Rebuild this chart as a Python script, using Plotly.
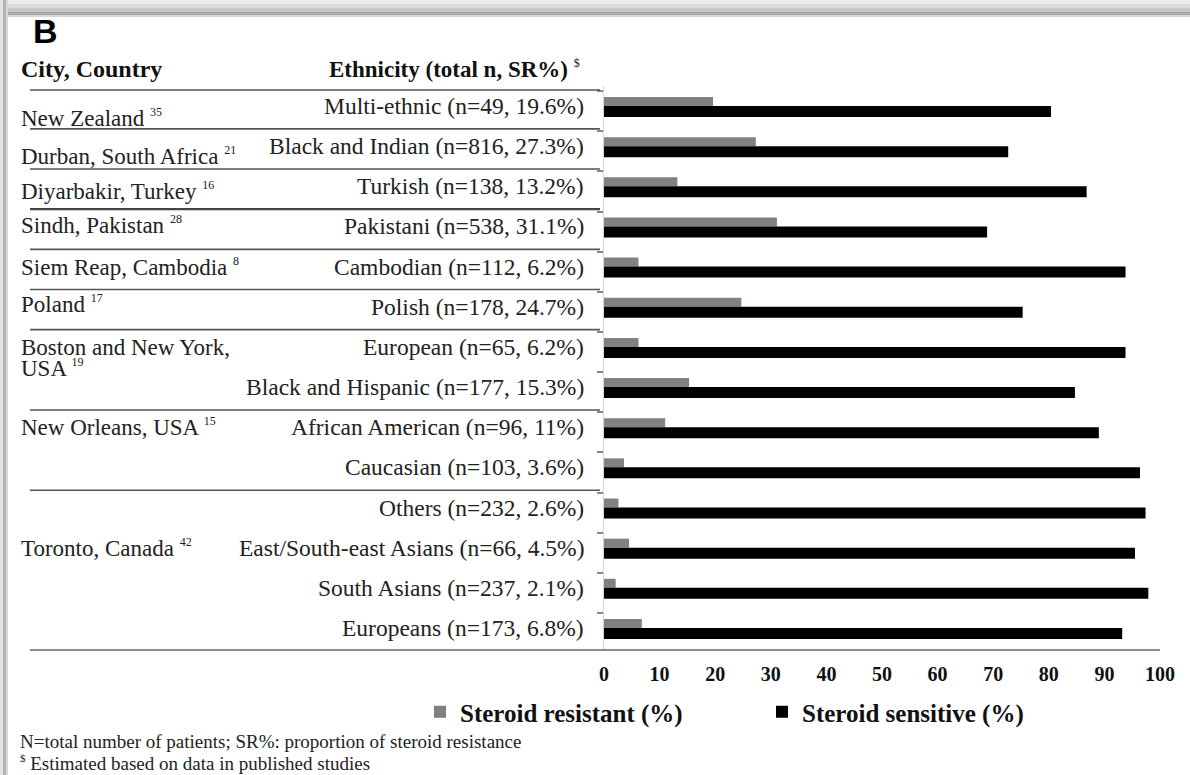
import plotly.graph_objects as go

# ---------------- data ----------------
ethnicities = [
    "Multi-ethnic (n=49, 19.6%)",
    "Black and Indian (n=816, 27.3%)",
    "Turkish (n=138, 13.2%)",
    "Pakistani (n=538, 31.1%)",
    "Cambodian (n=112, 6.2%)",
    "Polish (n=178, 24.7%)",
    "European (n=65, 6.2%)",
    "Black and Hispanic (n=177, 15.3%)",
    "African American (n=96, 11%)",
    "Caucasian (n=103, 3.6%)",
    "Others (n=232, 2.6%)",
    "East/South-east Asians (n=66, 4.5%)",
    "South Asians (n=237, 2.1%)",
    "Europeans (n=173, 6.8%)",
]
steroid_resistant = [19.6, 27.3, 13.2, 31.1, 6.2, 24.7, 6.2, 15.3, 11.0, 3.6, 2.6, 4.5, 2.1, 6.8]
steroid_sensitive = [80.4, 72.7, 86.8, 68.9, 93.8, 75.3, 93.8, 84.7, 89.0, 96.4, 97.4, 95.5, 97.9, 93.2]

cities = [
    ["New Zealand"],
    ["Durban, South Africa"],
    ["Diyarbakir, Turkey"],
    ["Sindh, Pakistan"],
    ["Siem Reap, Cambodia"],
    ["Poland"],
    ["Boston and New York,", "USA"],
    ["New Orleans, USA"],
    ["Toronto, Canada"],
]
city_refs = ["35", "21", "16", "28", "8", "17", "19", "15", "42"]
city_groups = [[0], [1], [2], [3], [4], [5], [6, 7], [8, 9], [10, 11, 12, 13]]

x_ticks = [0, 10, 20, 30, 40, 50, 60, 70, 80, 90, 100]

# ---------------- layout geometry (pixels) ----------------
W, H = 1190, 775
L, R = 604, 1160          # x=0 and x=100
T, B = 86, 650            # plot top / bottom
ROW0, ROWSTEP = 106, 40.15

def fx(px):
    return (px - L) / (R - L)

def fy(py):
    return (B - py) / (B - T)

def row_to_px(r):
    return ROW0 + ROWSTEP * r

ymin = (T - ROW0) / ROWSTEP
ymax = (B - ROW0) / ROWSTEP

SERIF = "Liberation Serif"
rows = list(range(len(ethnicities)))

def sup(t, size):
    return "<sup><span style='font-size:%dpx'>%s</span></sup>" % (size, t)

fig = go.Figure()
fig.add_trace(go.Bar(
    orientation="h", y=rows, x=steroid_resistant, name="Steroid resistant (%)",
    marker=dict(color="#7f8183", line=dict(width=0)),
    width=9 / ROWSTEP, offset=-9 / ROWSTEP, hoverinfo="x",
))
fig.add_trace(go.Bar(
    orientation="h", y=rows, x=steroid_sensitive, name="Steroid sensitive (%)",
    marker=dict(color="#000000", line=dict(width=0)),
    width=11 / ROWSTEP, offset=0, hoverinfo="x",
))

ann = []
# Ethnicity labels
for i, e in enumerate(ethnicities):
    ann.append(dict(xref="paper", yref="y", x=fx(586), y=i, text=e,
                    xanchor="right", yanchor="middle", showarrow=False,
                    font=dict(family=SERIF, size=23.5, color="#222")))

# City labels
city_offsets_px = [12, 10, 5, -1, 0, -3, 1, 0, 0]
city_label_rows = [0, 1, 2, 3, 4, 5, 6, 8, 11]
for lines, ref, r, off in zip(cities, city_refs, city_label_rows, city_offsets_px):
    py = row_to_px(r) + off
    for k, line in enumerate(lines):
        txt = line + (" " + sup(ref, 12) if k == len(lines) - 1 else "")
        ann.append(dict(xref="paper", yref="paper", x=fx(19), y=fy(py + 20 * k),
                        text=txt, xanchor="left", yanchor="middle", showarrow=False,
                        font=dict(family=SERIF, size=23, color="#222")))

# Headers
ann.append(dict(xref="paper", yref="paper", x=fx(19), y=fy(69), text="<b>City, Country</b>",
                xanchor="left", yanchor="middle", showarrow=False,
                font=dict(family=SERIF, size=24, color="#111")))
ann.append(dict(xref="paper", yref="paper", x=fx(582), y=fy(69),
                text="<b>Ethnicity (total n, SR%)</b> " + sup("$", 12),
                xanchor="right", yanchor="middle", showarrow=False,
                font=dict(family=SERIF, size=23, color="#111")))
ann.append(dict(xref="paper", yref="paper", x=fx(31), y=fy(31), text="<b>B</b>",
                xanchor="left", yanchor="middle", showarrow=False,
                font=dict(family="Liberation Sans", size=34, color="#000")))
# Footnotes
ann.append(dict(xref="paper", yref="paper", x=fx(18), y=fy(741),
                text="N=total number of patients; SR%: proportion of steroid resistance",
                xanchor="left", yanchor="middle", showarrow=False,
                font=dict(family=SERIF, size=19, color="#222")))
ann.append(dict(xref="paper", yref="paper", x=fx(18), y=fy(763),
                text=sup("$", 11) + " Estimated based on data in published studies",
                xanchor="left", yanchor="middle", showarrow=False,
                font=dict(family=SERIF, size=19, color="#222")))

shapes = []
# Frame shadow
for (y0, y1, c) in [(0, 4, "#ececec"), (4, 8, "#dcdcdc"), (8, 12, "#c6c6c6"), (12, 15, "#a9a9a9"), (15, 17, "#d6d6d6")]:
    shapes.append(dict(type="rect", xref="paper", yref="paper", x0=fx(0), x1=fx(W),
                       y0=fy(y1), y1=fy(y0), fillcolor=c, line=dict(width=0), layer="below"))
for (x0, x1, c) in [(0, 3, "#e4e4e4"), (3, 6, "#b4b4b4"), (6, 8, "#dadada")]:
    shapes.append(dict(type="rect", xref="paper", yref="paper", x0=fx(x0), x1=fx(x1),
                       y0=fy(H), y1=fy(0), fillcolor=c, line=dict(width=0), layer="below"))

# Separator lines
sep_rows = [-0.4] + [g[-1] + 0.57 for g in city_groups[:-1]]
for k, s in enumerate(sep_rows):
    shapes.append(dict(type="line", xref="paper", yref="y", x0=fx(30), x1=fx(600),
                       y0=s, y1=s, line=dict(color="#444" if k == 3 else "#555",
                                             width=2.2 if k == 3 else 1.6)))
shapes.append(dict(type="line", xref="paper", yref="paper", x0=fx(30), x1=fx(R),
                   y0=0, y1=0, line=dict(color="#666", width=1.6)))

fig.update_layout(
    width=W, height=H,
    margin=dict(l=L, r=W - R, t=T, b=H - B, pad=0),
    paper_bgcolor="white", plot_bgcolor="white",
    barmode="overlay",
    showlegend=True,
    legend=dict(orientation="h", x=fx(420), xanchor="left", y=fy(712), yanchor="middle",
                font=dict(family=SERIF, size=25, color="#111", weight="bold"),
                entrywidth=297, entrywidthmode="pixels", traceorder="normal",
                bgcolor="rgba(0,0,0,0)"),
    xaxis=dict(range=[0, 100], tickvals=x_ticks, showgrid=False, zeroline=False,
               showline=False, ticks="", fixedrange=True, ticklabelstandoff=10,
               tickfont=dict(family=SERIF, size=20, color="#111", weight="bold")),
    yaxis=dict(range=[ymax, ymin], showgrid=False, zeroline=False, showticklabels=False,
               showline=True, linecolor="#d5d5d5", linewidth=1, fixedrange=True,
               tickmode="linear", tick0=-0.37, dtick=1, ticks="outside", ticklen=6,
               tickcolor="#888", tickwidth=1.5),
    annotations=ann, shapes=shapes,
)

fig.write_html("out.html", config={"displayModeBar": False},
               post_script="document.body.style.margin='0px';document.body.style.overflow='hidden';")
